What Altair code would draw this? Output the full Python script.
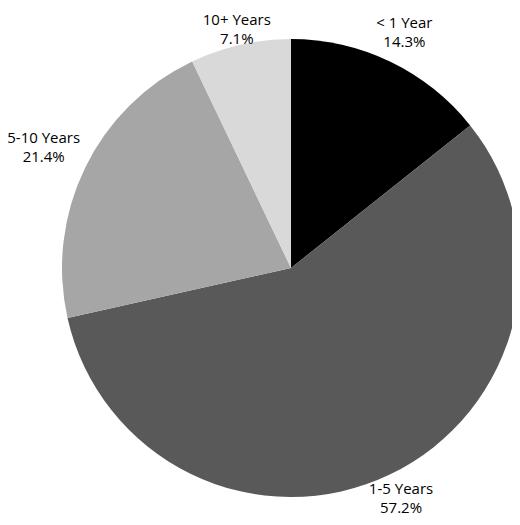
import altair as alt
import pandas as pd

categories = ["< 1 Year", "1-5 Years", "5-10 Years", "10+ Years"]
values = [14.3, 57.2, 21.4, 7.1]
pct_labels = ["14.3%", "57.2%", "21.4%", "7.1%"]
colors = ["#000000", "#595959", "#a6a6a6", "#d9d9d9"]

df = pd.DataFrame({
    "category": categories,
    "value": values,
    "pct": pct_labels,
    "idx": list(range(len(categories))),
})

CX, CY = 283, 260
R = 229

base = alt.Chart(df).encode(
    theta=alt.Theta("value:Q", stack=True, scale=alt.Scale(domain=[0, 100])),
    order=alt.Order("idx:Q"),
    x=alt.value(CX),
    y=alt.value(CY),
)

pie = base.mark_arc(radius=R, strokeWidth=0).encode(
    color=alt.Color("category:N", scale=alt.Scale(domain=categories, range=colors), legend=None)
)

def label_layer(cat, radius):
    return base.transform_calculate(
        lbl=f"datum.category == '{cat}' ? [datum.category, datum.pct] : ''"
    ).mark_text(
        radius=radius, align="center", baseline="middle", font="Open Sans", fontSize=15,
        color="#000000", lineHeight=19, dy=-9.5
    ).encode(text=alt.Text("lbl:N"))

labels = [
    label_layer("< 1 Year", 261),
    label_layer("10+ Years", 245),
    label_layer("5-10 Years", 275),
    label_layer("1-5 Years", 255),
]

chart = alt.layer(pie, *labels).properties(
    width=504, height=509,
    autosize=alt.AutoSizeParams(type="none"),
    padding=0,
    background="white",
).configure_view(stroke=None)

chart.save("out.html", embed_options={"renderer": "svg", "actions": False})
